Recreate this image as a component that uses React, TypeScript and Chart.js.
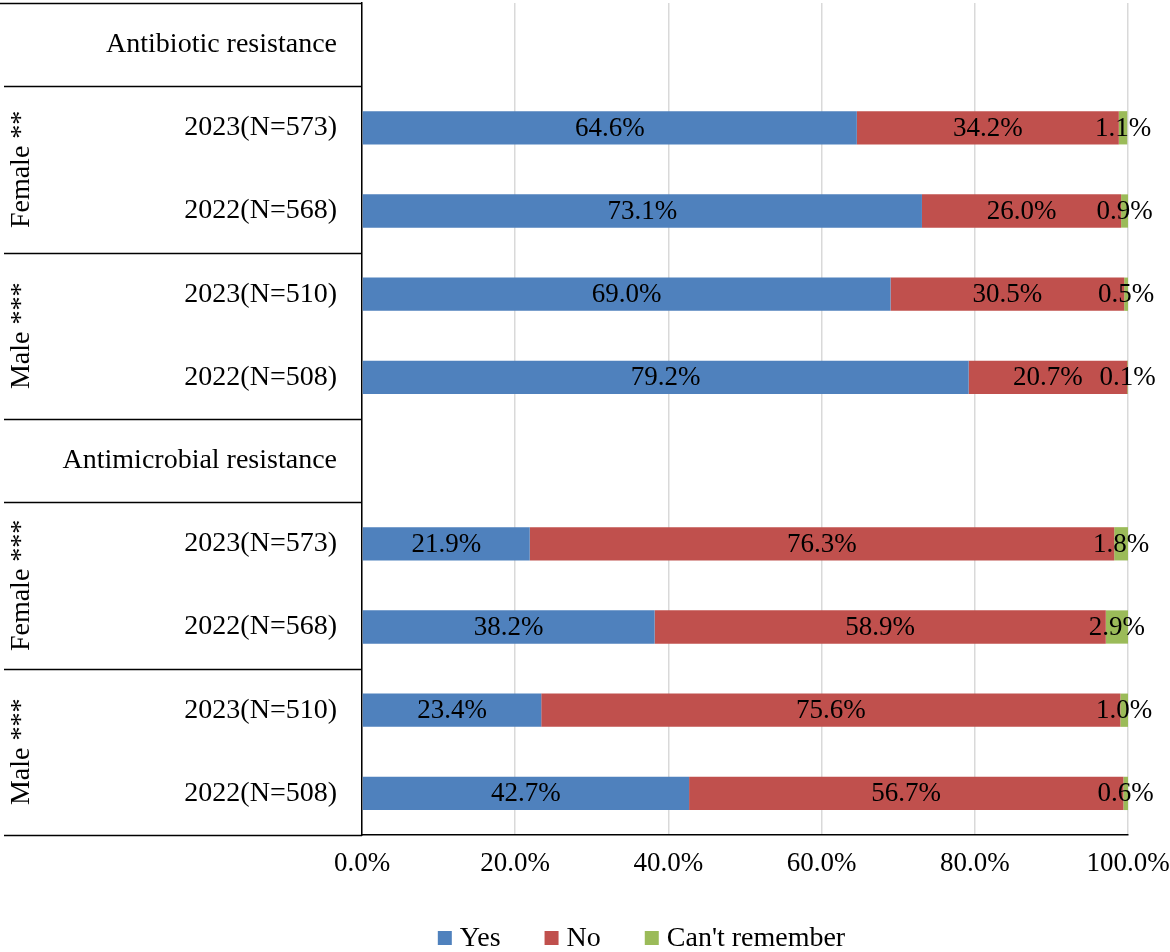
import React, { useEffect, useRef } from 'react';
import { Chart, registerables } from 'chart.js';

Chart.register(...registerables);

// Row labels of the category axis (header rows carry no bars)
const rowLabels = [
  'Antibiotic resistance',
  '2023(N=573)',
  '2022(N=568)',
  '2023(N=510)',
  '2022(N=508)',
  'Antimicrobial resistance',
  '2023(N=573)',
  '2022(N=568)',
  '2023(N=510)',
  '2022(N=508)',
];

// Percentages per row
const yesValues = [null, 64.6, 73.1, 69.0, 79.2, null, 21.9, 38.2, 23.4, 42.7];
const noValues = [null, 34.2, 26.0, 30.5, 20.7, null, 76.3, 58.9, 75.6, 56.7];
const cantRememberValues = [null, 1.1, 0.9, 0.5, 0.1, null, 1.8, 2.9, 1.0, 0.6];

// Outer grouping of the rows (first row index, last row index)
const groupLabels = ['Female **', 'Male ***', 'Female ***', 'Male ***'];
const groupFirstRow = [1, 3, 6, 8];
const groupLastRow = [2, 4, 7, 9];

const seriesNames = ['Yes', 'No', "Can't remember"];
const seriesColors = ['#4F81BD', '#C0504D', '#9BBB59'];

const FONT = '"Liberation Serif", "Times New Roman", serif';

// Horizontal separators of the row table and the rotated group labels
const tablePlugin = {
  id: 'tableLines',
  afterDraw(chart: any) {
    const { ctx, chartArea, scales } = chart;
    const yScale = scales.y;
    const rowH = (chartArea.bottom - chartArea.top) / rowLabels.length;
    const edges = new Set<number>([0, rowLabels.length]);
    rowLabels.forEach((_, i) => {
      if (yesValues[i] == null) {
        edges.add(i);
        edges.add(i + 1);
      }
    });
    groupLastRow.forEach((r) => edges.add(r + 1));
    ctx.save();
    ctx.strokeStyle = '#000';
    ctx.lineWidth = 1.5;
    edges.forEach((e) => {
      const yy = Math.round(chartArea.top + e * rowH) + 0.5;
      ctx.beginPath();
      ctx.moveTo(e === 0 ? 0 : 4, yy);
      ctx.lineTo(chartArea.left, yy);
      ctx.stroke();
    });
    ctx.fillStyle = '#000';
    ctx.font = `28px ${FONT}`;
    ctx.textAlign = 'center';
    ctx.textBaseline = 'middle';
    groupLabels.forEach((label, i) => {
      const yc = (yScale.getPixelForValue(groupFirstRow[i]) + yScale.getPixelForValue(groupLastRow[i])) / 2;
      ctx.save();
      ctx.translate(22, yc);
      ctx.rotate(-Math.PI / 2);
      ctx.fillText(label, 0, 0);
      ctx.restore();
    });
    ctx.restore();
  },
};

// Value labels centred on each bar segment
const valueLabelPlugin = {
  id: 'valueLabels',
  afterDatasetsDraw(chart: any) {
    const { ctx } = chart;
    ctx.save();
    ctx.fillStyle = '#000';
    ctx.font = `27px ${FONT}`;
    ctx.textAlign = 'center';
    ctx.textBaseline = 'middle';
    chart.data.datasets.forEach((ds: any, di: number) => {
      const meta = chart.getDatasetMeta(di);
      meta.data.forEach((bar: any, i: number) => {
        const v = ds.data[i];
        if (v == null) return;
        const { x, base, y } = bar.getProps(['x', 'base', 'y'], true);
        ctx.fillText(`${v.toFixed(1)}%`, (x + base) / 2, y + 1);
      });
    });
    ctx.restore();
  },
};

// Legend row under the axis
const legendPlugin = {
  id: 'bottomLegend',
  afterDraw(chart: any) {
    const { ctx } = chart;
    const box = 14;
    const gap = 8;
    const spacing = 44;
    const centerX = 641.5;
    const cy = 938;
    ctx.save();
    ctx.font = `28px ${FONT}`;
    ctx.textBaseline = 'middle';
    ctx.textAlign = 'left';
    const widths = seriesNames.map((n) => box + gap + ctx.measureText(n).width);
    const total = widths.reduce((a, b) => a + b, 0) + spacing * (widths.length - 1);
    let x = centerX - total / 2;
    seriesNames.forEach((name, i) => {
      ctx.fillStyle = seriesColors[i];
      ctx.fillRect(x, cy - box / 2, box, box);
      ctx.fillStyle = '#000';
      ctx.fillText(name, x + box + gap, cy + 1);
      x += widths[i] + spacing;
    });
    ctx.restore();
  },
};

export default function App() {
  const canvasRef = useRef<HTMLCanvasElement | null>(null);

  useEffect(() => {
    document.body.style.margin = '0';
    const canvas = canvasRef.current;
    if (!canvas) return;
    const seriesData = [yesValues, noValues, cantRememberValues];
    const chart = new Chart(canvas, {
      type: 'bar',
      data: {
        labels: rowLabels,
        datasets: seriesNames.map((name, i) => ({
          label: name,
          data: seriesData[i] as any,
          backgroundColor: seriesColors[i],
          borderWidth: 0,
          categoryPercentage: 1,
          barPercentage: 0.4,
        })),
      },
      options: {
        indexAxis: 'y',
        responsive: false,
        animation: false,
        devicePixelRatio: 1,
        layout: { padding: { top: 3, right: 42, left: 0, bottom: 0 } },
        plugins: {
          legend: { display: false },
          tooltip: { enabled: false },
        },
        scales: {
          x: {
            stacked: true,
            min: 0,
            max: 100,
            grid: { color: '#d9d9d9', lineWidth: 1.5, drawTicks: false },
            border: { display: true, color: '#000', width: 1.5 },
            ticks: {
              stepSize: 20,
              padding: 13,
              color: '#000',
              font: { family: FONT, size: 27 },
              callback: (v: any) => `${Number(v).toFixed(1)}%`,
            },
            afterFit: (s: any) => {
              s.height = 117;
              s.paddingLeft = 0;
              s.paddingRight = 0;
            },
          },
          y: {
            stacked: true,
            grid: { display: false, drawTicks: false },
            border: { display: true, color: '#000', width: 1.5 },
            ticks: {
              autoSkip: false,
              padding: 25,
              color: '#000',
              font: { family: FONT, size: 28 },
            },
            afterFit: (s: any) => {
              s.width = 362;
              s.paddingTop = 0;
              s.paddingBottom = 0;
            },
          },
        },
      },
      plugins: [tablePlugin, valueLabelPlugin, legendPlugin],
    });
    return () => chart.destroy();
  }, []);

  return (
    <div style={{ width: 1170, height: 952 }}>
      <canvas ref={canvasRef} width={1170} height={952} style={{ display: 'block' }} />
    </div>
  );
}
